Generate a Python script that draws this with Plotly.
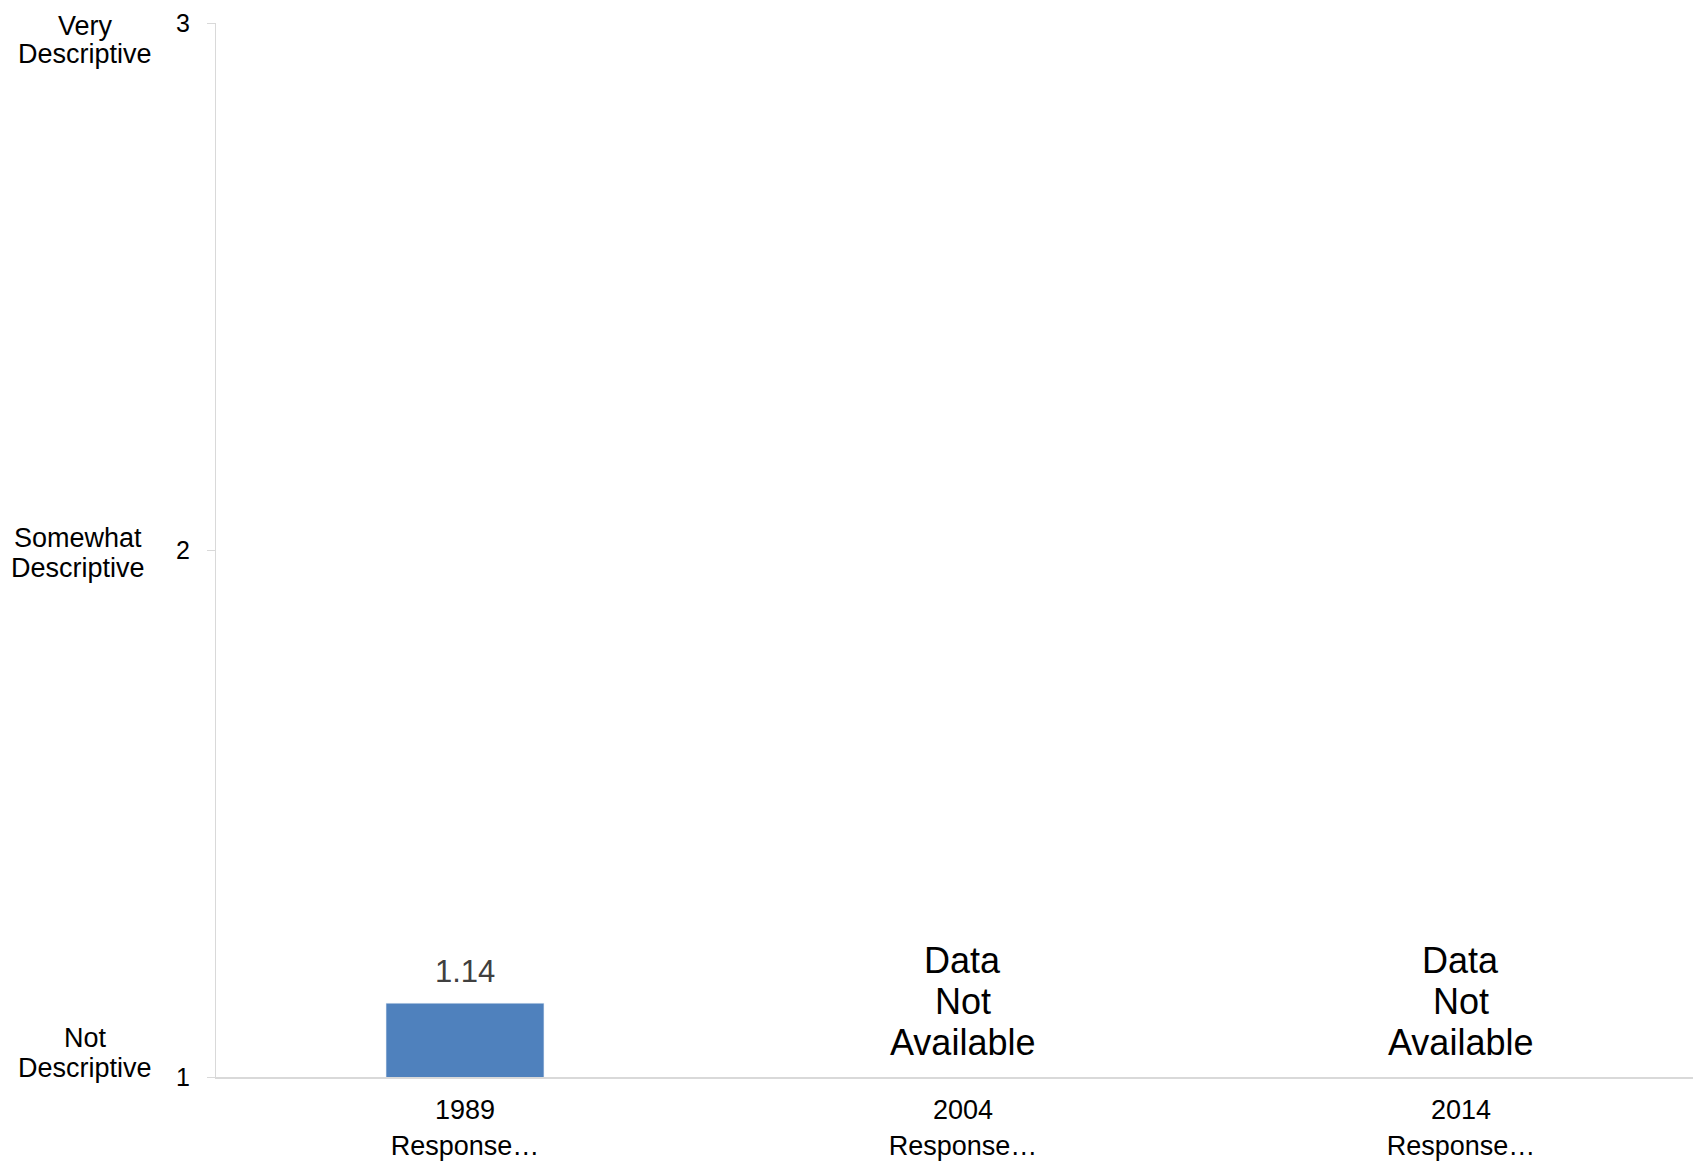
import plotly.graph_objects as go

# data
categories = ["1989<br>Response…", "2004<br>Response…", "2014<br>Response…"]
scores = [1.14, None, None]
missing_label = ["Data", "Not", "Available"]

ytick_vals = [1, 2, 3]
ytick_text = ["1", "2", "3"]
ytick_desc = [["Not", "Descriptive"], ["Somewhat", "Descriptive"], ["Very", "Descriptive"]]

FONT = "Arial, Liberation Sans, sans-serif"

fig = go.Figure()

fig.add_trace(go.Bar(
    x=categories,
    y=scores,
    marker_color="#4F81BD",
    showlegend=False,
))

# value labels above bars, "Data Not Available" where there is no score
dna_shift = [117, 76, 35]
for cat, val in zip(categories, scores):
    if val is None:
        for line, s in zip(missing_label, dna_shift):
            fig.add_annotation(
                x=cat, y=1, xref="x", yref="y",
                text=line, showarrow=False, yanchor="middle", yshift=s,
                font=dict(size=36, color="black", family=FONT),
            )
    else:
        fig.add_annotation(
            x=cat, y=val, xref="x", yref="y",
            text=f"{val:.2f}", showarrow=False,
            yanchor="bottom", yshift=12,
            font=dict(size=31, color="#404040", family=FONT),
        )

# descriptive labels next to the y ticks (one annotation per line)
desc_shift = [[39, 9], [12, -18], [-3, -31]]
desc_x = [(85 - 216) / 1485, (78 - 216) / 1485, (85 - 216) / 1485]
for v, lines, shifts, px in zip(ytick_vals, ytick_desc, desc_shift, desc_x):
    for line, s in zip(lines, shifts):
        fig.add_annotation(
            x=px, y=v, xref="paper", yref="y",
            text=line, showarrow=False, xanchor="center", yanchor="middle",
            yshift=s, borderpad=0,
            font=dict(size=27, color="black", family=FONT),
        )

fig.update_layout(
    width=1693,
    height=1154,
    margin=dict(l=208, r=0, t=15, b=85, pad=0),
    plot_bgcolor="white",
    paper_bgcolor="white",
    bargap=0.683,
    font=dict(family=FONT, color="black"),
)

fig.update_xaxes(
    range=[-0.5, 2.482],
    showline=True, linecolor="#d9d9d9", linewidth=2,
    showgrid=False, ticks="",
    ticklabelstandoff=8,
    tickfont=dict(size=27, color="black", family=FONT),
)
fig.update_yaxes(
    range=[1, 3],
    tickvals=ytick_vals, ticktext=ytick_text,
    showline=True, linecolor="#d9d9d9", linewidth=1,
    ticks="outside", ticklen=8, tickcolor="#d9d9d9",
    ticklabelstandoff=12,
    showgrid=False, zeroline=False,
    tickfont=dict(size=25, color="black", family=FONT),
)

fig.write_html("out.html")
